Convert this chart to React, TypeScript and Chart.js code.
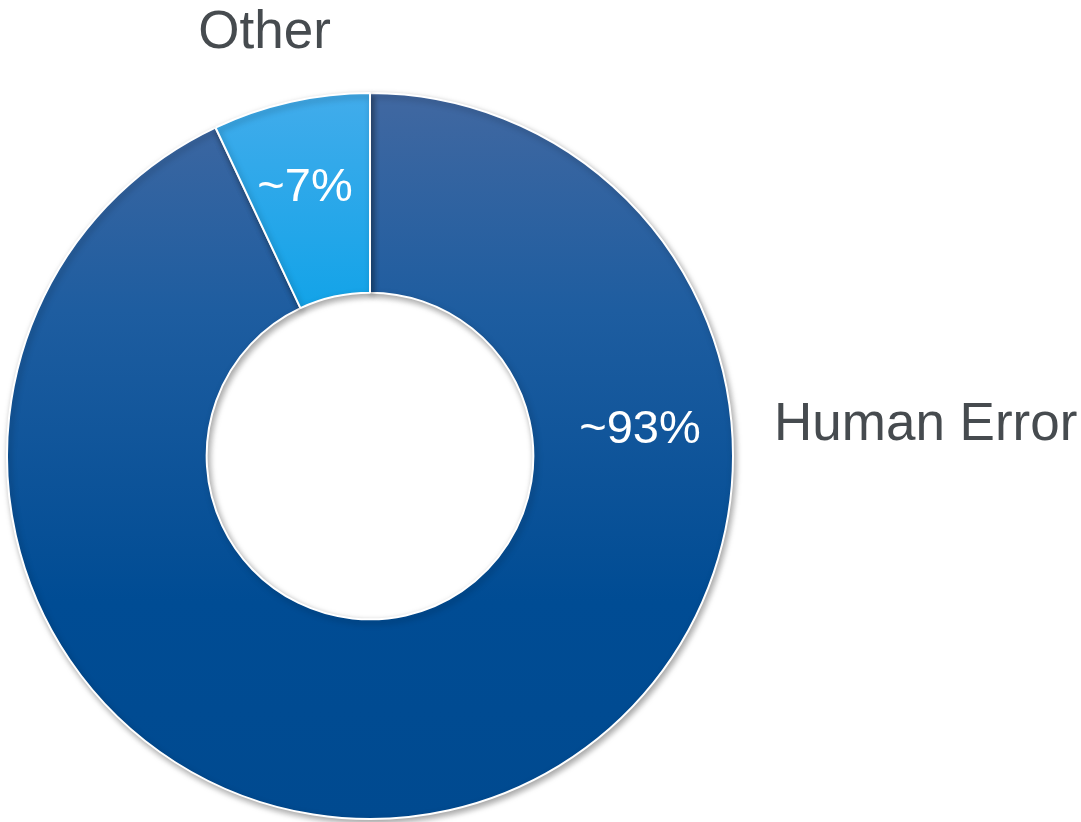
import React, { useEffect, useRef } from "react";
import { Chart, registerables } from "chart.js";

Chart.register(...registerables);

const categories = ["Human Error", "Other"];
const values = [93, 7];
const valueLabels = ["~93%", "~7%"];

const gradientStops = [
  ["#4168A1", "#1E5DA0", "#004C94", "#004A90"],
  ["#42ACEB", "#12A3E8", "#00A0E6", "#009FE5"],
];

const DEG = Math.PI / 180;

const labelPlugin = {
  id: "sliceLabels",
  afterDatasetsDraw(chart: any) {
    const ctx = chart.ctx;
    const meta = chart.getDatasetMeta(0);
    ctx.save();
    meta.data.forEach((arc: any, i: number) => {
      const { x, y, startAngle, endAngle, innerRadius, outerRadius } = arc.getProps(
        ["x", "y", "startAngle", "endAngle", "innerRadius", "outerRadius"],
        true
      );
      ctx.textBaseline = "middle";
      if (i === 0) {
        const a = -Math.PI / 2 + 84.6 * DEG;
        const r = (innerRadius + outerRadius) / 2 + 8;
        ctx.fillStyle = "#FFFFFF";
        ctx.font = "47px 'Liberation Sans', Arial, sans-serif";
        ctx.textAlign = "center";
        ctx.fillText(valueLabels[i], x + Math.cos(a) * r, y + Math.sin(a) * r);
        ctx.fillStyle = "#464B4F";
        ctx.font = "53px 'Liberation Sans', Arial, sans-serif";
        ctx.textAlign = "left";
        ctx.fillText(categories[i], x + outerRadius + 41, y - 31);
      } else {
        const mid = (startAngle + endAngle) / 2;
        const a = mid - 1 * DEG;
        const r = (innerRadius + outerRadius) / 2 + 13;
        ctx.fillStyle = "#FFFFFF";
        ctx.font = "47px 'Liberation Sans', Arial, sans-serif";
        ctx.textAlign = "center";
        ctx.fillText(valueLabels[i], x + Math.cos(a) * r, y + Math.sin(a) * r);
        const ao = mid - 1.4 * DEG;
        const ro = outerRadius + 73;
        ctx.fillStyle = "#464B4F";
        ctx.font = "53px 'Liberation Sans', Arial, sans-serif";
        ctx.fillText(categories[i], x + Math.cos(ao) * ro, y + Math.sin(ao) * ro);
      }
    });
    ctx.restore();
  },
};

const shadowPlugin = {
  id: "arcShadow",
  beforeDatasetsDraw(chart: any) {
    const ctx = chart.ctx;
    ctx.save();
    ctx.shadowColor = "rgba(0,0,0,0.35)";
    ctx.shadowBlur = 6;
    ctx.shadowOffsetX = 2;
    ctx.shadowOffsetY = 3;
  },
  afterDatasetsDraw(chart: any) {
    chart.ctx.restore();
  },
};

export default function App() {
  const ref = useRef<HTMLCanvasElement | null>(null);

  useEffect(() => {
    document.body.style.margin = "0";
    if (!ref.current) return;
    const chart = new Chart(ref.current, {
      type: "doughnut",
      data: {
        labels: categories,
        datasets: [
          {
            data: values,
            backgroundColor: (context: any) => {
              const area = context.chart.chartArea;
              const stops = gradientStops[context.dataIndex] || gradientStops[0];
              if (!area) return stops[2];
              const g = context.chart.ctx.createLinearGradient(0, area.top, 0, area.bottom);
              g.addColorStop(0, stops[0]);
              g.addColorStop(0.3, stops[1]);
              g.addColorStop(0.7, stops[2]);
              g.addColorStop(1, stops[3]);
              return g;
            },
            borderColor: "#FFFFFF",
            borderWidth: 2,
            hoverOffset: 0,
          },
        ],
      },
      options: {
        responsive: false,
        animation: false,
        cutout: "45%",
        layout: { padding: { left: 6, right: 347, top: 92, bottom: 2 } },
        plugins: {
          legend: { display: false },
          tooltip: { enabled: false },
        },
        events: [],
      },
      plugins: [shadowPlugin, labelPlugin],
    });
    return () => chart.destroy();
  }, []);

  return (
    <div style={{ position: "absolute", left: 0, top: 0, width: 1081, height: 822, background: "#FFFFFF" }}>
      <canvas ref={ref} width={1081} height={822} style={{ width: 1081, height: 822 }} />
    </div>
  );
}
